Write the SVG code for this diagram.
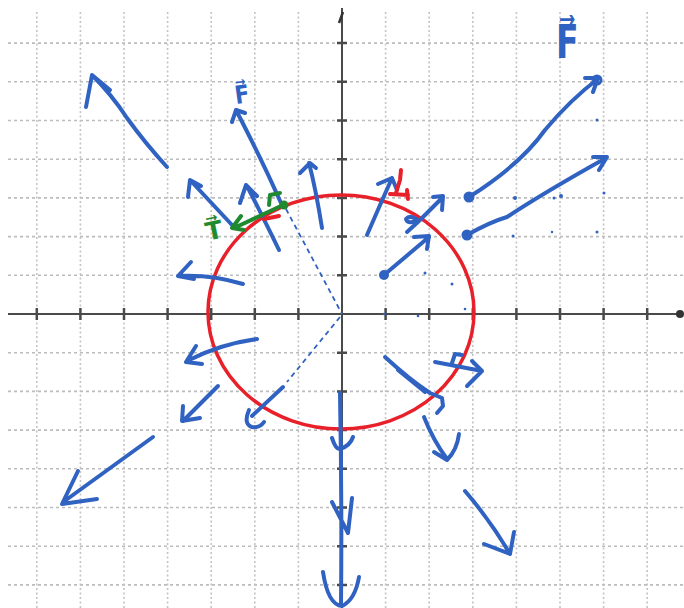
<svg xmlns="http://www.w3.org/2000/svg" width="684" height="608" viewBox="0 0 684 608">
<style>
.gh{stroke:#bcbcbc;stroke-width:1.6;stroke-dasharray:3 3;fill:none}
.gv{stroke:#c4c4c4;stroke-width:1.6;stroke-dasharray:2 2.5;fill:none}
.ax{stroke:#4a4a4a;stroke-width:2;fill:none}
.tk{stroke:#4a4a4a;stroke-width:2.5;fill:none}
.b{stroke:#3062c2;stroke-width:4;fill:none;stroke-linecap:round;stroke-linejoin:round}
.bd{stroke:#3062c2;stroke-width:1.8;fill:none;stroke-dasharray:5 4}
.bdot{fill:#3062c2}
.g{stroke:#1f8a30;stroke-width:4;fill:none;stroke-linecap:round;stroke-linejoin:round}
.r{stroke:#e8202a;stroke-width:4;fill:none;stroke-linecap:round;stroke-linejoin:round}
.lbl{font-family:"DejaVu Sans","Liberation Sans",sans-serif;font-weight:bold}
</style>
<rect width="684" height="608" fill="#ffffff"/>
<g id="grid">
<path class="gh" d="M8,43.1H684M8,81.8H684M8,120.5H684M8,159.2H684M8,197.9H684M8,236.6H684M8,275.3H684M8,352.7H684M8,391.4H684M8,430.1H684M8,468.8H684M8,507.5H684M8,546.2H684M8,584.9H684"/>
<path class="gv" d="M36.8,12V608M80.4,12V608M124,12V608M167.6,12V608M211.2,12V608M254.8,12V608M298.4,12V608M385.6,12V608M429.2,12V608M472.8,12V608M516.4,12V608M560,12V608M603.6,12V608M647.2,12V608"/>
</g>
<g id="axes">
<path class="ax" d="M8,314H680M342,8V608"/>
<path class="tk" d="M36.8,308V320M80.4,308V320M124,308V320M167.6,308V320M211.2,308V320M254.8,308V320M298.4,308V320M385.6,308V320M429.2,308V320M472.8,308V320M516.4,308V320M560,308V320M603.6,308V320M647.2,308V320"/>
<path class="tk" d="M337,43.1H347M337,81.8H347M337,120.5H347M337,159.2H347M337,197.9H347M337,236.6H347M337,275.3H347M337,352.7H347M337,391.4H347M337,430.1H347M337,468.8H347M337,507.5H347M337,546.2H347M337,584.9H347"/>
<circle cx="680" cy="314" r="4" fill="#333"/>
<path d="M339,23 L343,12" stroke="#333" stroke-width="2.5" fill="none"/>
</g>
<g id="circle">
<ellipse cx="341" cy="312" rx="133" ry="117" fill="none" stroke="#e8202a" stroke-width="3.5"/>
</g>
<g id="guides">
<path class="bd" d="M286,209 L342,314"/>
<path class="bd" d="M340,317 L287,382" stroke-dasharray="3 3"/>
</g>
<g id="connectors">
<path class="b" d="M167,167 Q145,143 127,118 Q112,95 92,75 M86,107 L92,75 L110,90"/>
<path class="b" d="M281,203 Q262,160 237,112 M232,122 L236,110 L245,113"/>
<path class="b" d="M232,225 L190,180 M188,197 L190,180 L201,186" stroke-width="3.5"/>
<path class="b" d="M279,250 Q262,215 247,186 M240,203 L246,185 L257,196"/>
<path class="b" d="M322,228 Q316,190 309,163 M300,173 L310,163 L316,168"/>
<path class="b" d="M243,284 Q210,274 178,276 M191,262 L178,276 L194,279"/>
<path class="b" d="M367,235 Q380,205 392,178 M378,184 L392,178 L397,190"/>
<path class="b" d="M407,232 L419,221 Q410,214 406,219 Q407,225 420,220 L443,197 M433,197 L443,196 L442,210"/>
<path class="b" d="M384,275 L429,237 M414,237 L429,236 L427,249"/>
<circle class="bdot" cx="384" cy="275" r="5"/>
<path class="b" d="M469,197 Q520,165 545,130 Q570,100 599,78 M585,78 L598,78 L593,92"/>
<circle cx="597" cy="80" r="4" fill="none" stroke="#3062c2" stroke-width="3"/>
<circle class="bdot" cx="469" cy="197" r="5.5"/>
<path class="b" d="M467,235 Q490,222 507,217 Q545,192 606,158 M593,157 L607,157 L599,170"/>
<circle class="bdot" cx="467" cy="235" r="5.5"/>
<path class="b" d="M257,339 Q220,344 187,361 M196,346 L186,362 L202,364"/>
<path class="b" d="M218,386 L183,421 M183,406 L182,421 L200,418"/>
<path class="b" d="M283,387 L252,416 M249,410 Q243,424 252,427 Q260,428 264,422"/>
<path class="b" d="M153,437 L66,500 M78,471 L62,504 L97,499"/>
<path class="b" d="M340,393 Q342,500 341,605 M332,438 Q336,450 340,449 Q350,446 353,437 M332,502 L348,533 L352,498 M323,572 Q328,605 342,606 Q355,600 359,577"/>
<path class="b" d="M435,362 L482,371 M472,361 L482,371 L467,386"/>
<path class="b" d="M452,363 L455,354 L462,355" stroke-width="3"/>
<path class="b" d="M385,357 Q410,380 430,393 L442,398 L443,406 L437,413"/>
<path class="b" d="M398,370 L425,392" stroke-width="8"/>
<path class="b" d="M424,417 Q433,440 447,459 M434,452 L447,460 Q457,450 459,434"/>
<path class="b" d="M465,491 Q490,520 510,554 M484,544 L510,554 L514,532"/>
</g>
<g id="specks" class="bdot">
<circle cx="597" cy="120" r="1.5"/><circle cx="515" cy="198" r="2"/><circle cx="554" cy="198" r="1.5"/><circle cx="561" cy="196" r="2"/><circle cx="604" cy="193" r="1.5"/><circle cx="513" cy="236" r="1.5"/><circle cx="552" cy="232" r="1.2"/><circle cx="597" cy="232" r="1.5"/><circle cx="425" cy="273" r="1.5"/><circle cx="452" cy="284" r="1.5"/><circle cx="384" cy="314" r="1.3"/><circle cx="418" cy="316" r="1.3"/><circle cx="465" cy="309" r="1.3"/>
</g>
<g id="tension">
<path class="g" d="M283,205 L234,228 M241,216 L232,228 L244,230"/>
<circle cx="284" cy="205" r="4.5" fill="#1f8a30"/>
<path class="g" d="M269,205 L270,195 L280,193" stroke-width="3.5"/>
<text class="lbl" x="205" y="239" font-size="25" fill="#1f8a30" transform="rotate(-12 214 228)">T⃗</text>
</g>
<g id="redmarks">
<path class="r" d="M264,219 L279,216"/>
<path class="r" d="M401,170 L400,180 L396,193 M390,194 L408,195 M407,190 L408,199"/>
</g>
<g id="labels">
<text class="lbl" x="0" y="0" font-size="25" fill="#3062c2" transform="translate(236 104) rotate(-8) scale(0.85 1)">F⃗</text>
<text class="lbl" x="0" y="0" font-size="46" fill="#3062c2" transform="translate(556 58) scale(0.72 1)">F⃗</text>
</g>
</svg>
